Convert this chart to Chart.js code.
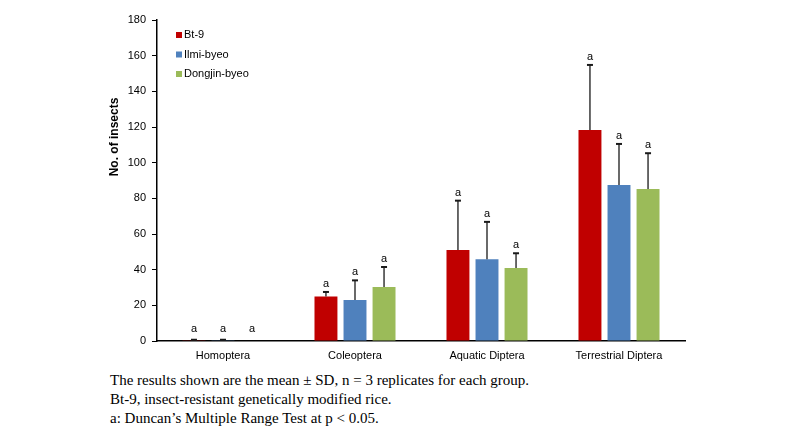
<!DOCTYPE html>
<html>
<head>
<meta charset="utf-8">
<script src="https://cdn.jsdelivr.net/npm/chart.js@4/dist/chart.umd.min.js"></script>
<style>
  body { margin: 0; background: #fff; }
  #wrap { position: relative; width: 800px; height: 430px; }
  #chart-box { position: absolute; left: 0; top: 0; width: 800px; height: 370px; }
  #caption {
    position: absolute; left: 110px; top: 371px;
    font-family: "Liberation Serif", "Times New Roman", serif;
    font-size: 15px; line-height: 19px; color: #000;
  }
</style>
</head>
<body>
<div id="wrap">
  <div id="chart-box"><canvas id="insect-chart"></canvas></div>
  <div id="caption">
    The results shown are the mean ± SD, n = 3 replicates for each group.<br>
    Bt-9, insect-resistant genetically modified rice.<br>
    a: Duncan’s Multiple Range Test at p &lt; 0.05.
  </div>
</div>
<script>
// Kategoriler ve seriler
const categories = ['Homoptera', 'Coleoptera', 'Aquatic Diptera', 'Terrestrial Diptera'];
const seriesNames = ['Bt-9', 'Ilmi-byeo', 'Dongjin-byeo'];
const seriesColors = ['#C00000', '#4F81BD', '#9BBB59'];

const bt9Mean = [0.4, 25, 51, 118.3];
const ilmiMean = [0.4, 23, 45.8, 87.5];
const dongjinMean = [0, 30.3, 41, 85.2];

const bt9Sd = [0.3, 2.5, 27.7, 36.5];
const ilmiSd = [0.3, 11, 21, 23];
const dongjinSd = [0, 11.2, 8.2, 20.1];

const groupLetters = [
    ['a', 'a', 'a', 'a'],
    ['a', 'a', 'a', 'a'],
    ['a', 'a', 'a', 'a']
];

const yTicks = [0, 20, 40, 60, 80, 100, 120, 140, 160, 180];
const yTitle = 'No. of insects';

const means = [bt9Mean, ilmiMean, dongjinMean];
const sds = [bt9Sd, ilmiSd, dongjinSd];

const FONT = '"Liberation Sans", Arial, sans-serif';

// Hata çubukları ve harfler
const errorBarPlugin = {
    id: 'errorBars',
    afterDatasetsDraw(chart) {
        const ctx = chart.ctx;
        const yScale = chart.scales.y;
        const zeroY = yScale.getPixelForValue(0);
        ctx.save();
        chart.data.datasets.forEach((ds, di) => {
            const meta = chart.getDatasetMeta(di);
            meta.data.forEach((bar, i) => {
                const top = ds.data[i] + sds[di][i];
                const barY = yScale.getPixelForValue(ds.data[i]);
                const capY = yScale.getPixelForValue(top);
                if (sds[di][i] > 0) {
                    ctx.strokeStyle = '#1a1a1a';
                    ctx.lineWidth = 1.3;
                    ctx.beginPath();
                    ctx.moveTo(bar.x, barY);
                    ctx.lineTo(bar.x, capY);
                    ctx.stroke();
                    ctx.lineWidth = 2;
                    ctx.beginPath();
                    ctx.moveTo(bar.x - 3, capY);
                    ctx.lineTo(bar.x + 3, capY);
                    ctx.stroke();
                }
                const labelY = Math.min(capY - 8, zeroY - 12);
                ctx.fillStyle = '#000';
                ctx.font = '11px ' + FONT;
                ctx.textAlign = 'center';
                ctx.textBaseline = 'middle';
                ctx.fillText(groupLetters[di][i], bar.x, labelY);
            });
        });
        ctx.restore();
    }
};

// Lejant ve eksen başlığı
const legendPlugin = {
    id: 'sideLegend',
    afterDraw(chart) {
        const ctx = chart.ctx;
        const area = chart.chartArea;
        ctx.save();
        ctx.font = '11px ' + FONT;
        ctx.textBaseline = 'middle';
        ctx.textAlign = 'left';
        seriesNames.forEach((name, i) => {
            const y = area.top + 15 + i * 19.5;
            ctx.fillStyle = seriesColors[i];
            ctx.fillRect(area.left + 19, y - 3, 6, 6);
            ctx.fillStyle = '#000';
            ctx.fillText(name, area.left + 27, y);
        });
        ctx.translate(115, 137);
        ctx.rotate(-Math.PI / 2);
        ctx.font = 'bold 12px ' + FONT;
        ctx.textAlign = 'center';
        ctx.fillText(yTitle, 0, 0);
        ctx.restore();
    }
};

const ctx = document.getElementById('insect-chart').getContext('2d');
new Chart(ctx, {
    type: 'bar',
    data: {
        labels: categories,
        datasets: seriesNames.map((name, i) => ({
            label: name,
            data: means[i],
            backgroundColor: seriesColors[i],
            borderWidth: 0,
            categoryPercentage: 0.66,
            barPercentage: 0.79
        }))
    },
    options: {
        responsive: true,
        maintainAspectRatio: false,
        animation: false,
        layout: { padding: { left: 104, right: 115, top: 20, bottom: 0 } },
        scales: {
            x: {
                grid: { display: false, drawTicks: false },
                border: { color: '#000', width: 1.5 },
                ticks: {
                    color: '#000',
                    padding: 8,
                    font: { family: FONT, size: 11 }
                },
                afterFit: s => { s.height = 29; }
            },
            y: {
                min: 0,
                max: 180,
                afterBuildTicks: s => { s.ticks = yTicks.map(v => ({ value: v })); },
                grid: { drawOnChartArea: false, drawTicks: true, tickLength: 5, color: '#000' },
                border: { color: '#000', width: 1.5 },
                ticks: {
                    color: '#000',
                    padding: 6,
                    font: { family: FONT, size: 11 }
                },
                afterFit: s => { s.width = 53; }
            }
        },
        plugins: {
            legend: { display: false },
            tooltip: { enabled: false }
        }
    },
    plugins: [errorBarPlugin, legendPlugin]
});
</script>
</body>
</html>
